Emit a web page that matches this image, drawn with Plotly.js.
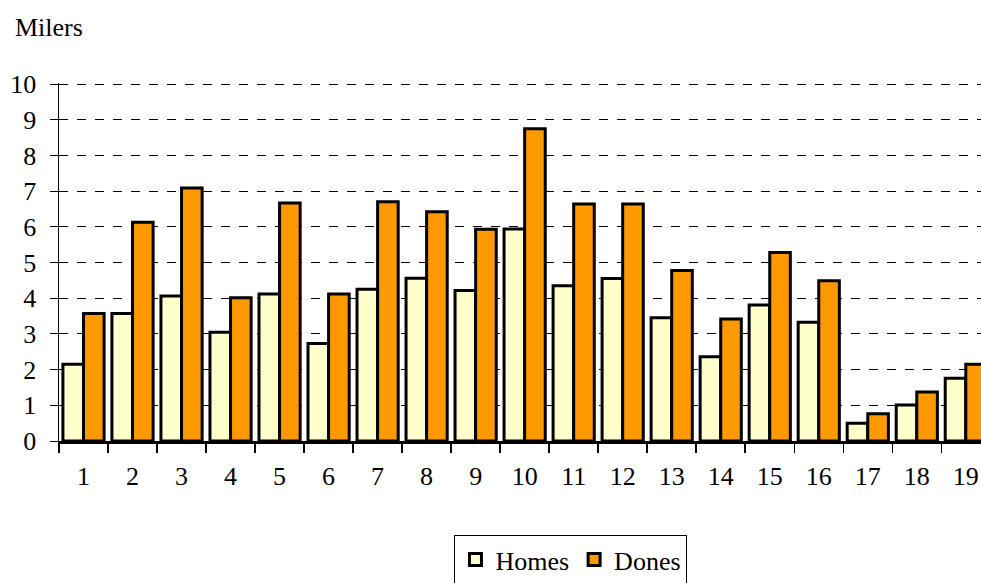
<!DOCTYPE html>
<html><head><meta charset="utf-8">
<script src="https://cdn.plot.ly/plotly-3.0.1.min.js"></script>
<style>body{margin:0;background:#fff}#c{width:981px;height:583px}
#c svg text{font-family:'Liberation Serif',serif !important;}</style>
</head><body><div id="c"></div>
<script>
const categories = ['1','2','3','4','5','6','7','8','9','10','11','12','13','14','15','16','17','18','19'];
const homes = [2.15,3.57,4.06,3.05,4.12,2.73,4.25,4.56,4.22,5.94,4.35,4.55,3.45,2.36,3.81,3.33,0.50,1.01,1.76];
const dones = [3.57,6.13,7.09,4.01,6.67,4.12,6.70,6.42,5.93,8.75,6.64,6.64,4.78,3.42,5.28,4.49,0.76,1.37,2.15];
const yTicks = [0,1,2,3,4,5,6,7,8,9,10];

function f() { return {family:'Liberation Serif', size:26, color:'#000'}; }
const traces = [
  {type:'bar', name:'Homes', x:categories, y:homes, marker:{color:'#FFFFCC', line:{color:'#000', width:3}}},
  {type:'bar', name:'Dones', x:categories, y:dones, marker:{color:'#FF9900', line:{color:'#000', width:3}}}
];
const layout = {
  width:981, height:583,
  margin:{l:59, r:0, t:83, b:142},
  paper_bgcolor:'#fff', plot_bgcolor:'#fff',
  font:f(),
  barmode:'group', bargap:0.16, bargroupgap:0,
  showlegend:true,
  legend:{orientation:'h', xref:'container', yref:'container', x:0.582, xanchor:'center', y:0.082, yanchor:'top',
          bgcolor:'#fff', bordercolor:'#000', borderwidth:1, font:f(), traceorder:'normal'},
  xaxis:{type:'category', range:[-0.5,18.31], showline:true, linecolor:'#000', linewidth:3,
         ticks:'outside', tickson:'boundaries', ticklen:9, tickwidth:1.5, tickcolor:'#000',
         ticklabelstandoff:10,
         showgrid:false, tickfont:f(), fixedrange:true},
  yaxis:{range:[0,10.03], tickvals:yTicks, showline:true, linecolor:'#000', linewidth:1.5,
         ticks:'outside', ticklen:8, tickcolor:'#000', tickwidth:1, ticklabelstandoff:8,
         showgrid:true, gridcolor:'#000', gridwidth:1, griddash:'dash', zeroline:false,
         tickfont:f(), fixedrange:true},
  annotations:[{text:'Milers', xref:'paper', yref:'paper', x:-0.050, y:1.0, yshift:56, xanchor:'left', yanchor:'middle',
                showarrow:false, font:f()}]
};
Plotly.newPlot('c', traces, layout, {displayModeBar:false, staticPlot:true});
</script></body></html>
